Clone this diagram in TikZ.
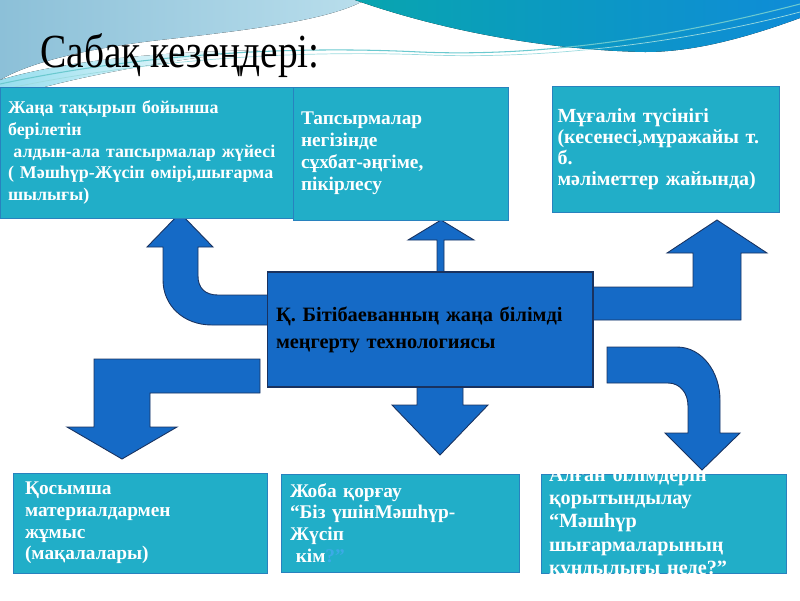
\documentclass[tikz,border=0pt]{standalone}
\usepackage{fontspec}
\setmainfont{Liberation Serif}
\usetikzlibrary{positioning}

\definecolor{stagefill}{RGB}{33,174,200}
\definecolor{stageedge}{RGB}{40,130,190}
\definecolor{bigblue}{RGB}{21,106,198}
\definecolor{bigedge}{RGB}{25,50,95}
\definecolor{askblue}{RGB}{60,170,230}
\definecolor{skyleft}{RGB}{140,192,216}
\definecolor{skyright}{RGB}{185,222,236}
\definecolor{skycyan}{RGB}{150,222,238}
\definecolor{waveteal}{RGB}{8,165,175}
\definecolor{waveblue}{RGB}{15,140,215}

\begin{document}
\begin{tikzpicture}[
  x=0.02cm, y=-0.02cm,
  stagebox/.style={draw=stageedge, line width=0.5pt, fill=stagefill, text=white,
    align=left, inner xsep=0.16cm, inner ysep=0pt,
    font=\bfseries\fontsize{11}{12.4}\selectfont},
  corebox/.style={draw=bigedge, line width=0.6pt, fill=bigblue, text=black,
    align=left, inner xsep=0.18cm, inner ysep=0pt,
    font=\bfseries\fontsize{11.6}{15.4}\selectfont},
  blockarrow/.style={draw=bigedge, line width=0.5pt, fill=bigblue}
]
  \useasboundingbox (0,0) rectangle (800,600);

  % top swoosh
  \fill[left color=skycyan, right color=white]
    (0,80) .. controls (60,62) and (150,52) .. (260,50)
    .. controls (150,62) and (60,80) .. (0,100) -- cycle;
  \fill[left color=skyleft, right color=skyright]
    (0,0) -- (365,0) .. controls (330,20) and (250,30) .. (160,40)
    .. controls (90,48) and (30,62) .. (0,80) -- cycle;
  \fill[left color=waveteal, right color=waveblue]
    (355,0) -- (800,0) -- (800,18) .. controls (740,40) and (690,52) .. (645,52)
    .. controls (545,50) and (440,30) .. (355,0) -- cycle;
  \draw[waveteal!60, line width=0.6pt]
    (0,84) .. controls (150,52) and (300,46) .. (420,52) .. controls (560,58) and (700,30) .. (800,4);
  \draw[waveteal!40, line width=0.4pt]
    (0,90) .. controls (150,58) and (300,50) .. (430,55) .. controls (570,60) and (710,36) .. (800,12);

  \node[anchor=base west, font=\fontsize{27}{30}\selectfont, inner sep=0pt, xscale=0.83] (heading)
    at (40,67) {Сабақ кезеңдері:};

  % arrows
  \draw[blockarrow] (275,325) -- (212,325) .. controls (183,325) and (163,305) .. (163,280)
    -- (163,247) -- (147,247) -- (180,213) -- (213,247) -- (198,247) -- (198,276)
    .. controls (198,288) and (205,295) .. (218,295) -- (275,295) -- cycle;
  \draw[blockarrow] (437,276) -- (437,240) -- (408,240) -- (441,220) -- (474,240)
    -- (444,240) -- (444,276) -- cycle;
  \draw[blockarrow] (585,287) -- (693,287) -- (693,253) -- (667,253) -- (717,220)
    -- (767,253) -- (741,253) -- (741,320) -- (585,320) -- cycle;
  \draw[blockarrow] (260,359) -- (94,359) -- (94,427) -- (67,427) -- (122,459)
    -- (177,427) -- (150,427) -- (150,393) -- (260,393) -- cycle;
  \draw[blockarrow] (417,383) -- (417,405) -- (392,405) -- (440,455) -- (488,405)
    -- (463,405) -- (463,383) -- cycle;
  \draw[blockarrow] (607,347) -- (677,347) .. controls (702,347) and (720,372) .. (720,400)
    -- (720,433) -- (740,433) -- (702,470) -- (665,433) -- (688,433) -- (688,406)
    .. controls (688,393) and (680,383) .. (668,383) -- (607,383) -- cycle;

  % stages
  \node[stagebox, font=\bfseries\fontsize{10.2}{12.4}\selectfont,
    minimum width=5.86cm, minimum height=2.62cm, text width=5.54cm] (advance)
    at (146.5,152.5) {Жаңа тақырып бойынша\\берілетін\\\hspace{0.3em}алдын-ала тапсырмалар жүйесі\\( Мәшһүр-Жүсіп өмірі,шығарма\\шылығы)};
  \node[stagebox, font=\bfseries\fontsize{11}{12.6}\selectfont,
    minimum width=4.3cm, minimum height=2.66cm, text width=3.98cm] (talk)
    at (400.5,153.5) {Тапсырмалар\\негізінде\\сұхбат-әңгіме,\\пікірлесу};
  \node[stagebox, font=\bfseries\fontsize{11.4}{11.9}\selectfont, inner xsep=0.1cm,
    minimum width=4.52cm, minimum height=2.52cm, text width=4.34cm] (teacher)
    at (666,149) {Мұғалім түсінігі\\(кесенесі,мұражайы т.\\б.\\мәліметтер жайында)};
  \node[corebox, minimum width=6.52cm, minimum height=2.3cm, text width=6.16cm] (core)
    at (430,329.5) {Қ. Бітібаеванның жаңа білімді\\меңгерту технологиясы};
  \node[stagebox, minimum width=5.08cm, minimum height=2.0cm, text width=4.6cm] (extra)
    at (140,523) {Қосымша\\материалдармен\\жұмыс\\(мақалалары)};
  \node[stagebox, minimum width=4.76cm, minimum height=1.96cm, text width=4.4cm] (project)
    at (400,523) {Жоба қорғау\\“Біз үшінМәшһүр-\\Жүсіп\\\hspace{0.3em}кім{\color{askblue}?”}};
  \node[stagebox, minimum width=4.9cm, minimum height=1.98cm] (summary) at (663.5,523.5) {};
  \begin{scope}
    \clip (summary.south west) rectangle (summary.north east);
    \node[stagebox, draw=none, fill=none, font=\bfseries\fontsize{11.5}{13.2}\selectfont,
      text width=4.5cm, anchor=north west] (summarytext)
      at ([yshift=0.14cm]summary.north west) {Алған білімдерін\\қорытындылау\\“Мәшһүр\\шығармаларының\\құндылығы неде?”};
  \end{scope}
\end{tikzpicture}
\end{document}
